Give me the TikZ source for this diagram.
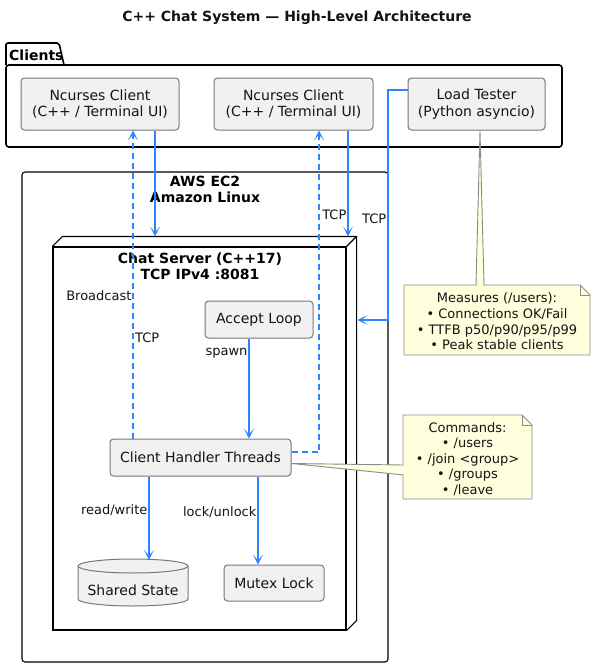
\documentclass[tikz,border=0pt]{standalone}
\usepackage{fontspec}
\setmainfont{DejaVu Sans}
\usetikzlibrary{arrows.meta,calc}
\definecolor{arrblue}{RGB}{45,132,255}
\definecolor{nodefill}{RGB}{241,241,241}
\definecolor{nodeline}{RGB}{120,120,120}
\definecolor{notefill}{RGB}{254,255,221}
\definecolor{noteline}{RGB}{140,140,140}
\definecolor{txt}{RGB}{20,20,20}
\tikzset{
  boxnode/.style={draw=nodeline, line width=1pt, fill=nodefill, rounded corners=3.5pt, align=center, inner sep=0pt,
    font=\fontsize{14}{16.5}\selectfont, text=txt},
  lbl/.style={font=\fontsize{13}{15}\selectfont, text=txt, inner sep=1pt},
  arr/.style={draw=arrblue, line width=1.2pt, -{Stealth[length=10pt,width=10pt,inset=6pt]}},
  darr/.style={arr, dash pattern=on 6pt off 4pt},
  notebox/.style={draw=noteline, fill=notefill, line width=0.9pt},
  notetxt/.style={align=center, font=\fontsize{13}{15.6}\selectfont, text=txt, inner sep=0pt},
  grpline/.style={draw=black, line width=1.1pt},
}
\begin{document}
\begin{tikzpicture}[x=1pt,y=-1pt]
\useasboundingbox[fill=white] (0,0) rectangle (595,667);

% title
\node[font=\bfseries\fontsize{14}{17}\selectfont, text=txt] (title) at (297,18) {C++ Chat System — High-Level Architecture};

% Clients package
\draw[line width=1.6pt, rounded corners=2pt] (6,65) -- (6,43) -- (59,43) -- (64,65);
\draw[line width=1.6pt, rounded corners=3pt] (6,65) rectangle (562,147);
\node[font=\bfseries\fontsize{14}{17}\selectfont, anchor=west, inner sep=0pt] (clientsl) at (9,55) {Clients};

\node[boxnode, minimum width=158pt, minimum height=52pt] (c1) at (100,104) {Ncurses Client\\(C++ / Terminal UI)};
\node[boxnode, minimum width=159pt, minimum height=52pt] (c2) at (293.5,104) {Ncurses Client\\(C++ / Terminal UI)};
\node[boxnode, minimum width=137pt, minimum height=52pt] (lt) at (476.5,104) {Load Tester\\(Python asyncio)};

% AWS EC2
\draw[grpline, rounded corners=3pt] (22,172) rectangle (388,662);
\node[font=\bfseries\fontsize{14}{16}\selectfont, align=center, inner sep=0pt] (awst) at (205,189) {AWS EC2\\Amazon Linux};

% Chat server 3D box
\node[draw, line width=1.1pt, minimum width=293pt, minimum height=383pt, inner sep=0pt] (srv) at (199.5,438.5) {};
\draw[line width=1.1pt] (srv.north west) -- ++(10,-10) -- ([xshift=10pt,yshift=10pt]srv.north east)
   -- ([xshift=10pt,yshift=10pt]srv.south east) -- (srv.south east);
\draw[line width=1.1pt] (srv.north east) -- ++(10,-10);
\node[font=\bfseries\fontsize{14}{15.5}\selectfont, align=center, inner sep=0pt] (srvt) at (200,266.5) {Chat Server (C++17)\\TCP IPv4 :8081};

% inner nodes
\node[boxnode, minimum width=108pt, minimum height=37pt] (al) at (259,319.5) {Accept Loop};
\node[boxnode, minimum width=181pt, minimum height=37pt] (ch) at (200.5,457.5) {Client Handler Threads};
\node[boxnode, minimum width=100pt, minimum height=36pt] (mx) at (274,583) {Mutex Lock};

% Shared state cylinder
\node[minimum width=110pt, minimum height=47pt, inner sep=0pt] (ss) at (133,582.5) {};
\draw[draw=nodeline, line width=1pt, fill=nodefill] (78,566) -- (78,599) arc[start angle=180, end angle=0, x radius=55, y radius=7]
   -- (188,566) arc[start angle=0, end angle=-180, x radius=55, y radius=7] -- cycle;
\draw[draw=nodeline, line width=1pt] (78,566) arc[start angle=180, end angle=0, x radius=55, y radius=7];
\node[font=\fontsize{14}{16}\selectfont, text=txt, inner sep=0pt] (sst) at (133,590) {Shared State};

% notes
\draw[notebox] (480,131) -- (484,285) -- (476,285) -- cycle;
\draw[notebox] (404,285) -- (580,285) -- (590,295) -- (590,355) -- (404,355) -- cycle;
\draw[noteline, line width=0.9pt] (580,285) -- (580,295) -- (590,295);
\fill[notefill] (476.6,286) rectangle (483.4,284);
\node[notetxt] (n1) at (497,321.5) {Measures (/users):\\• Connections OK/Fail\\• TTFB p50/p90/p95/p99\\• Peak stable clients};

\draw[notebox] ([yshift=-6pt]ch.east) -- (404,465) -- (404,475) -- cycle;
\draw[notebox] (403,415) -- (522,415) -- (532,425) -- (532,499) -- (403,499) -- cycle;
\draw[noteline, line width=0.9pt] (522,415) -- (522,425) -- (532,425);
\fill[notefill] (402,465.6) rectangle (405,474.4);
\node[notetxt] (n2) at (467.5,459) {Commands:\\• /users\\• /join <group>\\• /groups\\• /leave};

% connectors
\draw[arr] ([xshift=55pt]c1.south) -- ([xshift=-44.5pt,yshift=10pt]srv.north);
\draw[arr] ([xshift=54.5pt]c2.south) -- node[lbl, pos=0.8, anchor=east] (l2) {TCP} ([xshift=148.5pt,yshift=10pt]srv.north);
\draw[arr, line width=1.4pt] ([yshift=14pt]lt.west) -- ++(-19.5,0) |- node[lbl, pos=0.28, anchor=east] (l3) {TCP} ([xshift=11pt,yshift=118.5pt]srv.east);

\draw[darr] ([xshift=-67.5pt]ch.north) -- node[lbl, pos=0.463, anchor=east, inner sep=1pt] (lb) {Broadcast}
   node[lbl, pos=0.327, anchor=west, inner sep=1.5pt] (lt1) {TCP} ([xshift=33pt]c1.south);
\draw[darr] ([yshift=5.5pt]ch.east) -| ([xshift=25.5pt]c2.south);

\draw[arr] ([xshift=-10pt]al.south) -- node[lbl, pos=0.15, anchor=east, inner sep=1pt] (lsp) {spawn} ([xshift=48.5pt]ch.north);
\draw[arr] ([xshift=-51.5pt]ch.south) -- node[lbl, pos=0.4, anchor=east, inner sep=1pt] (lrw) {read/write} ([xshift=16pt,yshift=-1pt]ss.north);
\draw[arr] ([xshift=57.5pt]ch.south) -- node[lbl, pos=0.4, anchor=east, inner sep=1pt] (llk) {lock/unlock} ([xshift=-16pt]mx.north);
\end{tikzpicture}
\end{document}
